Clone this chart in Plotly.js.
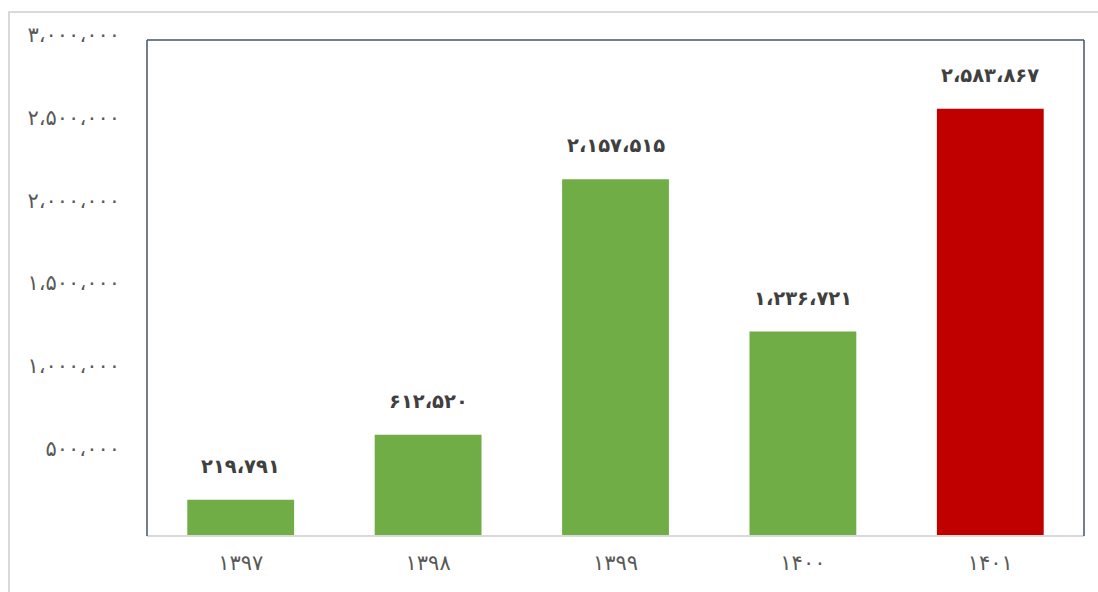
<!DOCTYPE html>
<html>
<head>
<meta charset="utf-8">
<script src="https://cdn.plot.ly/plotly-3.0.1.min.js"></script>
<style>
html,body{margin:0;padding:0;background:#fff;}
#wrap{position:relative;width:1098px;height:592px;}
#frame{position:absolute;left:8px;top:11px;width:1090px;height:581px;border-left:2px solid #d9d9d9;border-top:2px solid #d9d9d9;box-sizing:border-box;pointer-events:none;}
#chart{position:absolute;left:0;top:0;width:1098px;height:592px;}
</style>
</head>
<body>
<div id="wrap"><div id="chart"></div><div id="frame"></div></div>
<script>
var categories = ['۱۳۹۷', '۱۳۹۸', '۱۳۹۹', '۱۴۰۰', '۱۴۰۱'];
var values = [219791, 612520, 2157515, 1236721, 2583867];
var barColors = ['#70AD47', '#70AD47', '#70AD47', '#70AD47', '#C00000'];
var tickValues = [500000, 1000000, 1500000, 2000000, 2500000, 3000000];
var tickLabels = ['۵۰۰،۰۰۰', '۱،۰۰۰،۰۰۰', '۱،۵۰۰،۰۰۰', '۲،۰۰۰،۰۰۰', '۲،۵۰۰،۰۰۰', '۳،۰۰۰،۰۰۰'];
var valueLabels = ['۲۱۹،۷۹۱', '۶۱۲،۵۲۰', '۲،۱۵۷،۵۱۵', '۱،۲۳۶،۷۲۱', '۲،۵۸۳،۸۶۷'];

var fontFam = '"DejaVu Sans", "Noto Sans", sans-serif';

var trace = {
  type: 'bar',
  x: categories,
  y: values,
  marker: {color: barColors, line: {width: 0}},
  hoverinfo: 'none'
};

var annotations = categories.map(function(c, i) {
  return {
    x: c, y: values[i], xref: 'x', yref: 'y',
    text: '<b>' + valueLabels[i] + '</b>',
    showarrow: false, yanchor: 'bottom', yshift: 20,
    font: {family: fontFam, size: 19.5, color: '#404040'}
  };
});

var layout = {
  width: 1098, height: 592,
  margin: {l: 147, r: 14, t: 40, b: 56},
  paper_bgcolor: 'rgba(0,0,0,0)',
  plot_bgcolor: '#ffffff',
  showlegend: false,
  bargap: 0.43,
  xaxis: {
    type: 'category',
    showgrid: false, zeroline: false, showline: false,
    ticks: '', ticklabelstandoff: 12,
    tickfont: {family: fontFam, size: 21, color: '#595959'},
    fixedrange: true
  },
  yaxis: {
    range: [0, 3000000],
    tickvals: tickValues, ticktext: tickLabels,
    showgrid: false, zeroline: false, showline: false,
    ticks: '', ticklabelstandoff: 26, ticklabelshift: -5,
    tickfont: {family: fontFam, size: 21, color: '#595959'},
    fixedrange: true
  },
  annotations: annotations,
  shapes: [
    {type: 'line', xref: 'paper', yref: 'paper', x0: 0, x1: 1, y0: 0, y1: 0, line: {color: '#d9d9d9', width: 2}},
    {type: 'line', xref: 'paper', yref: 'paper', x0: 0, x1: 0, y0: 0, y1: 1, line: {color: '#44546A', width: 1.5}},
    {type: 'line', xref: 'paper', yref: 'paper', x0: 1, x1: 1, y0: 0, y1: 1, line: {color: '#44546A', width: 1.5}},
    {type: 'line', xref: 'paper', yref: 'paper', x0: 0, x1: 1, y0: 1, y1: 1, line: {color: '#44546A', width: 1.5}}
  ]
};

Plotly.newPlot('chart', [trace], layout, {displayModeBar: false, staticPlot: true});
</script>
</body>
</html>
